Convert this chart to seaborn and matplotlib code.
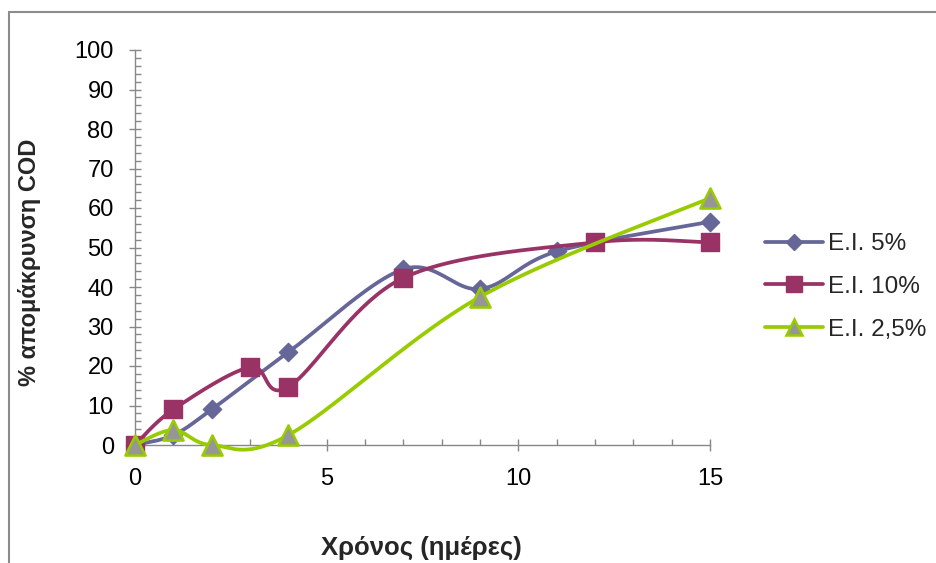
import numpy as np
import pandas as pd
import matplotlib
matplotlib.use("Agg")
import matplotlib.pyplot as plt
import seaborn as sns
from matplotlib.lines import Line2D
from matplotlib.patches import Rectangle

# ---- data ----
days_5 = [0, 1, 2, 4, 7, 9, 11, 15]
cod_5 = [0, 2.5, 9, 23.5, 44.5, 39.5, 49, 56.5]
days_10 = [0, 1, 3, 4, 7, 12, 15]
cod_10 = [0, 9, 19.7, 14.7, 42.3, 51.3, 51.3]
days_25 = [0, 1, 2, 4, 9, 15]
cod_25 = [0, 3.8, 0, 2.5, 37.5, 62.5]
series_labels = ["E.I. 5%", "E.I. 10%", "E.I. 2,5%"]
x_ticks = [0, 5, 10, 15]
y_ticks = list(range(0, 101, 10))
x_title = "Χρόνος (ημέρες)"
y_title = "% απομάκρυνση COD"

sns.set_style("white")
plt.rcParams["font.family"] = ["Liberation Sans", "DejaVu Sans"]


def smooth(x, y, n=40):
    P = np.column_stack([x, y]).astype(float)
    m = len(P)
    out = []
    for i in range(m - 1):
        p0 = P[max(i - 1, 0)]
        p1 = P[i]
        p2 = P[i + 1]
        p3 = P[min(i + 2, m - 1)]
        c1 = p1 + (p2 - p0) / 6.0
        c2 = p2 - (p3 - p1) / 6.0
        t = np.linspace(0, 1, n)[:, None]
        seg = (1 - t) ** 3 * p1 + 3 * (1 - t) ** 2 * t * c1 + 3 * (1 - t) * t ** 2 * c2 + t ** 3 * p2
        out.append(seg if i == 0 else seg[1:])
    return np.vstack(out)


fig = plt.figure(figsize=(9.36, 5.63), dpi=100)
ax = fig.add_axes([135 / 936, 1 - 445 / 563, 575 / 936, 395 / 563])

styles = [
    dict(color="#666699", marker="D", ms=9.3, face="#666699", edge="#666699", ew=1.0, lms=8),
    dict(color="#993366", marker="s", ms=13.2, face="#993366", edge="#993366", ew=1.0, lms=11),
    dict(color="#99CC00", marker="^", ms=14.5, face="#969696", edge="#99CC00", ew=1.8, lms=12),
]
datasets = [(days_5, cod_5), (days_10, cod_10), (days_25, cod_25)]

handles = []
for k, ((xd, yd), st, lab) in enumerate(zip(datasets, styles, series_labels)):
    curve = smooth(xd, yd)
    cdf = pd.DataFrame({"x": curve[:, 0], "y": curve[:, 1]})
    sns.lineplot(data=cdf, x="x", y="y", sort=False, estimator=None, ax=ax,
                 color=st["color"], lw=2.7, zorder=3 + 2 * k, legend=False)
    pdf = pd.DataFrame({"x": xd, "y": yd})
    sns.scatterplot(data=pdf, x="x", y="y", ax=ax, marker=st["marker"], s=st["ms"] ** 2,
                    color=st["face"], edgecolor=st["edge"], linewidth=st["ew"],
                    zorder=4 + 2 * k, legend=False, clip_on=False)
    handles.append(Line2D([0], [0], color=st["color"], lw=2.7, marker=st["marker"],
                          markersize=st["lms"], markerfacecolor=st["face"],
                          markeredgecolor=st["edge"], markeredgewidth=st["ew"]))

for coll in ax.collections:
    coll.set_clip_on(False)
for ln in ax.lines:
    ln.set_clip_on(False)

ax.set_xlim(0, 15)
ax.set_ylim(0, 100)
ax.set_xticks(x_ticks)
ax.set_xticks(np.arange(1, 15), minor=True)
ax.set_yticks(y_ticks)
ax.set_yticks(np.arange(2, 100, 2), minor=True)
ax.set_xticklabels([str(v) for v in x_ticks])
ax.set_yticklabels([str(v) for v in y_ticks])
ax.tick_params(axis="both", which="major", direction="inout", length=8.6, width=1,
               color="#888888", labelsize=17, labelcolor="black")
ax.tick_params(axis="x", which="major", pad=12.5)
ax.tick_params(axis="y", which="major", pad=11)
ax.tick_params(axis="both", which="minor", direction="in", length=4.3, width=1, color="#888888")
ax.tick_params(axis="both", which="both", bottom=True, left=True, top=False, right=False)

for s in ["top", "right"]:
    ax.spines[s].set_visible(False)
for s in ["left", "bottom"]:
    ax.spines[s].set_color("#888888")
    ax.spines[s].set_linewidth(1)

ax.set_xlabel(x_title, fontsize=18.5, fontweight="bold")
ax.set_ylabel(y_title, fontsize=17, fontweight="bold")
ax.xaxis.set_label_coords((421 - 135) / 575, (445 - 548) / 395)
ax.yaxis.set_label_coords((30 - 135) / 575, (445 - 262) / 395)
ax.xaxis.label.set_va("center")
ax.yaxis.label.set_va("center")

fs_leg = 17.5
px = fs_leg * 100 / 72
fig.legend(handles, series_labels, loc="center left",
           bbox_to_anchor=(765 / 936, 1 - 287 / 563), frameon=False,
           fontsize=fs_leg, handlelength=58 / px, handletextpad=5 / px,
           labelspacing=(45 - px) / px, borderpad=0, borderaxespad=0)

fig.add_artist(Rectangle((9 / 936, -0.05), 1.0, 1 - 12 / 563 + 0.05,
                         transform=fig.transFigure, fill=False,
                         edgecolor="#8c8c8c", lw=1.5))

fig.savefig("out.png", dpi=100)
